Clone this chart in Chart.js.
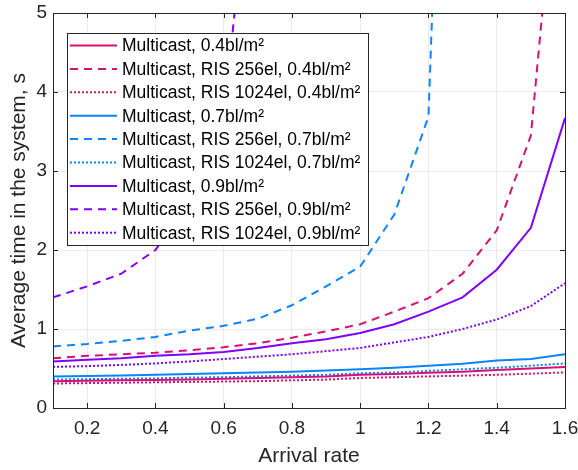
<!DOCTYPE html>
<html>
<head>
<meta charset="utf-8">
<script src="https://cdn.jsdelivr.net/npm/chart.js@4.4.1/dist/chart.umd.min.js"></script>
<style>
  body { margin: 0; background: #fff; }
</style>
</head>
<body>
<canvas id="myChart" width="578" height="470"></canvas>
<script>
var arrivalRate = [0.1, 0.2, 0.3, 0.4, 0.5, 0.6, 0.7, 0.8, 0.9, 1.0, 1.1, 1.2, 1.3, 1.4, 1.5, 1.6];
var xTicks = [0.2, 0.4, 0.6, 0.8, 1, 1.2, 1.4, 1.6];
var yTicks = [0, 1, 2, 3, 4, 5];

var multicast04 = [0.34, 0.345, 0.35, 0.355, 0.36, 0.37, 0.38, 0.39, 0.40, 0.42, 0.43, 0.445, 0.46, 0.48, 0.50, 0.52];
var ris256_04 = [0.63, 0.66, 0.68, 0.70, 0.73, 0.77, 0.82, 0.89, 0.97, 1.06, 1.22, 1.39, 1.70, 2.25, 3.45, 8.1];
var ris1024_04 = [0.31, 0.315, 0.32, 0.325, 0.33, 0.335, 0.34, 0.35, 0.36, 0.38, 0.39, 0.40, 0.41, 0.42, 0.435, 0.45];

var multicast07 = [0.40, 0.405, 0.41, 0.42, 0.43, 0.44, 0.45, 0.46, 0.475, 0.49, 0.51, 0.535, 0.56, 0.60, 0.62, 0.68];
var ris256_07 = [0.78, 0.81, 0.85, 0.90, 0.98, 1.04, 1.13, 1.30, 1.54, 1.79, 2.45, 3.69, 15.7, null, null, null];
var ris1024_07 = [0.36, 0.365, 0.37, 0.375, 0.385, 0.39, 0.40, 0.41, 0.42, 0.44, 0.45, 0.47, 0.49, 0.51, 0.535, 0.565];

var multicast09 = [0.59, 0.61, 0.63, 0.66, 0.68, 0.71, 0.76, 0.82, 0.87, 0.95, 1.06, 1.22, 1.40, 1.75, 2.28, 3.67];
var ris256_09 = [1.40, 1.54, 1.70, 2.0, 2.6, 3.6, 8.0, null, null, null, null, null, null, null, null, null];
var ris1024_09 = [0.52, 0.53, 0.545, 0.565, 0.59, 0.62, 0.65, 0.68, 0.72, 0.76, 0.83, 0.90, 1.0, 1.12, 1.29, 1.58];

var pink = "#d6107a";
var blue = "#0a84ff";
var purple = "#8000ff";
var dashed = [8, 6];
var dotted = [2, 2];
var fontFamily = "'Liberation Sans', Arial, sans-serif";

function series(label, values, color, dash) {
  return {
    label: label,
    data: values.map(function (v, i) { return { x: arrivalRate[i], y: v }; }),
    borderColor: color,
    backgroundColor: color,
    borderWidth: 2,
    borderDash: dash,
    pointRadius: 0,
    fill: false,
    tension: 0,
    spanGaps: false
  };
}

var datasets = [
  series("Multicast, 0.4bl/m²", multicast04, pink, []),
  series("Multicast, RIS 256el, 0.4bl/m²", ris256_04, pink, dashed),
  series("Multicast, RIS 1024el, 0.4bl/m²", ris1024_04, pink, dotted),
  series("Multicast, 0.7bl/m²", multicast07, blue, []),
  series("Multicast, RIS 256el, 0.7bl/m²", ris256_07, blue, dashed),
  series("Multicast, RIS 1024el, 0.7bl/m²", ris1024_07, blue, dotted),
  series("Multicast, 0.9bl/m²", multicast09, purple, []),
  series("Multicast, RIS 256el, 0.9bl/m²", ris256_09, purple, dashed),
  series("Multicast, RIS 1024el, 0.9bl/m²", ris1024_09, purple, dotted)
];

// axis box with inward ticks, then the boxed legend on top
var matlabFrame = {
  id: "matlabFrame",
  afterDraw: function (chart) {
    var ctx = chart.ctx;
    var a = chart.chartArea;
    var xs = chart.scales.x, ys = chart.scales.y;
    ctx.save();
    ctx.strokeStyle = "#262626";
    ctx.lineWidth = 1;
    ctx.beginPath();
    xTicks.forEach(function (t) {
      var px = Math.round(xs.getPixelForValue(t)) + 0.5;
      ctx.moveTo(px, a.bottom); ctx.lineTo(px, a.bottom - 5);
      ctx.moveTo(px, a.top); ctx.lineTo(px, a.top + 5);
    });
    yTicks.forEach(function (t) {
      var py = Math.round(ys.getPixelForValue(t)) + 0.5;
      ctx.moveTo(a.left, py); ctx.lineTo(a.left + 5, py);
      ctx.moveTo(a.right, py); ctx.lineTo(a.right - 5, py);
    });
    ctx.stroke();
    ctx.strokeRect(Math.round(a.left) + 0.5, Math.round(a.top) + 0.5,
      Math.round(a.right - a.left), Math.round(a.bottom - a.top));

    // legend
    var lx = 67.5, ly = 33.5, lw = 301, lh = 212, rowH = 23.4;
    ctx.fillStyle = "#fff";
    ctx.fillRect(lx, ly, lw, lh);
    ctx.strokeStyle = "#262626";
    ctx.strokeRect(lx, ly, lw, lh);
    ctx.font = "17.5px " + fontFamily;
    ctx.textBaseline = "middle";
    chart.data.datasets.forEach(function (ds, i) {
      var y = ly + 12 + i * rowH;
      ctx.strokeStyle = ds.borderColor;
      ctx.lineWidth = 2;
      ctx.setLineDash(ds.borderDash);
      ctx.beginPath();
      ctx.moveTo(70, y); ctx.lineTo(117, y);
      ctx.stroke();
      ctx.setLineDash([]);
      ctx.fillStyle = "#000";
      ctx.fillText(ds.label, 122, y + 1);
    });
    ctx.restore();
  }
};

var ctx = document.getElementById("myChart").getContext("2d");
var myChart = new Chart(ctx, {
  type: "line",
  data: { datasets: datasets },
  plugins: [matlabFrame],
  options: {
    responsive: false,
    animation: false,
    layout: { padding: { top: 13, right: 13, left: 0, bottom: 0 } },
    plugins: { legend: { display: false }, tooltip: { enabled: false } },
    scales: {
      x: {
        type: "linear",
        min: 0.1,
        max: 1.6,
        afterBuildTicks: function (scale) {
          scale.ticks = xTicks.map(function (v) { return { value: v }; });
        },
        afterFit: function (scale) {
          scale.height = 62;
          scale.paddingLeft = 0;
          scale.paddingRight = 0;
        },
        grid: { color: "#ebebeb", drawTicks: false },
        border: { display: false },
        ticks: {
          color: "#262626",
          padding: 9,
          maxRotation: 0,
          font: { family: fontFamily, size: 19 },
          callback: function (v) { return String(v); }
        },
        title: {
          display: true,
          text: "Arrival rate",
          color: "#262626",
          padding: { top: 0, bottom: 1 },
          font: { family: fontFamily, size: 21 }
        }
      },
      y: {
        min: 0,
        max: 5,
        afterBuildTicks: function (scale) {
          scale.ticks = yTicks.map(function (v) { return { value: v }; });
        },
        afterFit: function (scale) {
          scale.width = 53;
          scale.paddingTop = 0;
          scale.paddingBottom = 0;
        },
        grid: { color: "#ebebeb", drawTicks: false },
        border: { display: false },
        ticks: {
          color: "#262626",
          padding: 6,
          font: { family: fontFamily, size: 19 }
        },
        title: {
          display: true,
          text: "Average time in the system, s",
          color: "#262626",
          padding: { top: 7, bottom: 0 },
          font: { family: fontFamily, size: 21 }
        }
      }
    }
  }
});
</script>
</body>
</html>
